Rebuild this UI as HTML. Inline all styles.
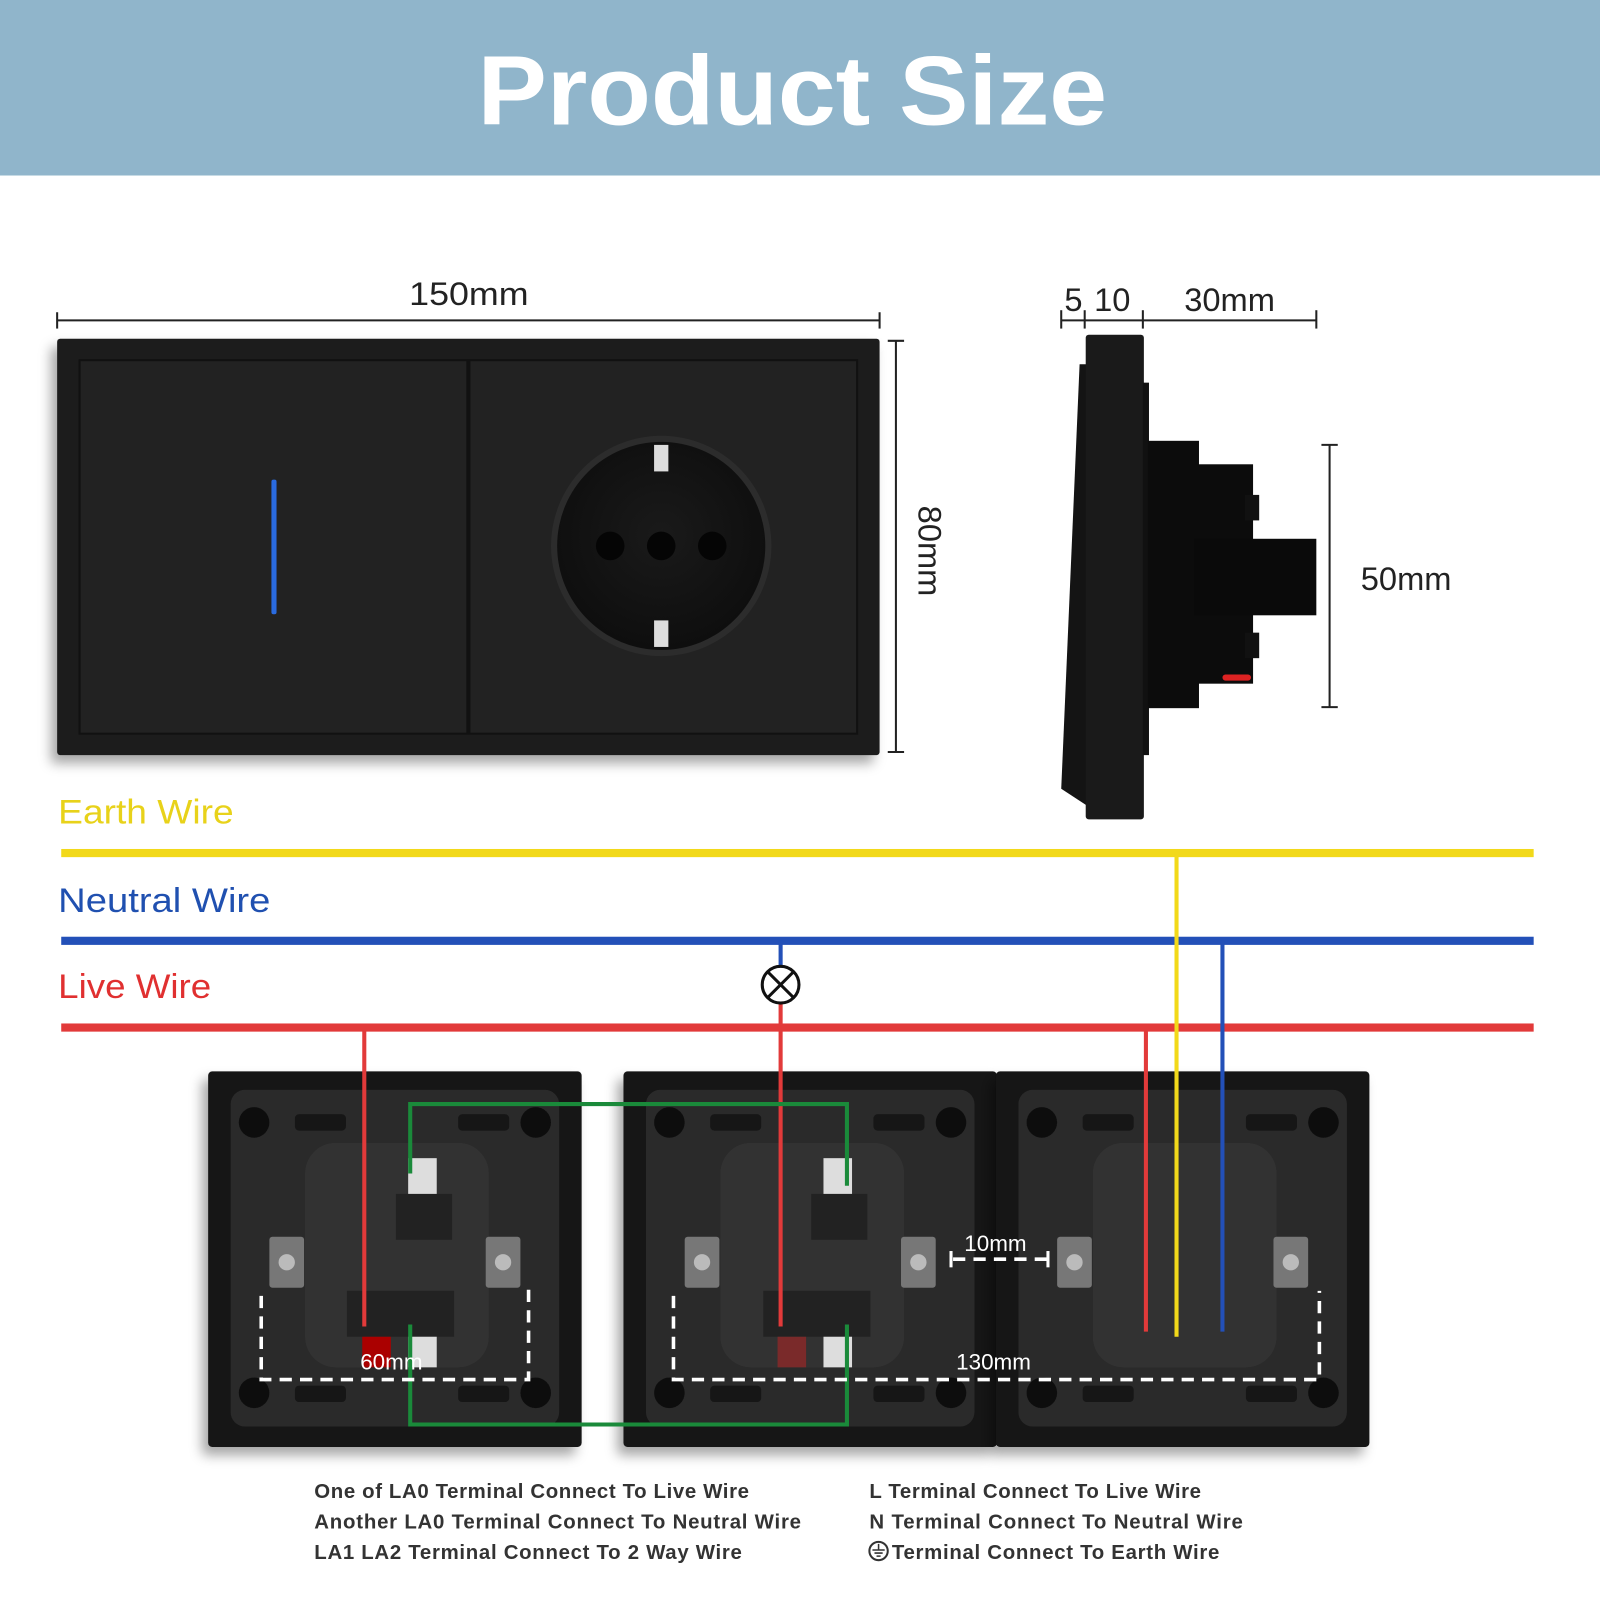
<!DOCTYPE html>
<html><head><meta charset="utf-8"><style>
html,body{margin:0;padding:0;background:#fff;width:1600px;height:1600px;overflow:hidden}
svg{display:block}
text{font-family:"Liberation Sans","DejaVu Sans",sans-serif}
</style></head><body>
<svg width="1600" height="1600" viewBox="0 0 1568 1568" xmlns="http://www.w3.org/2000/svg">
<defs>
<filter id="sh" x="-10%" y="-10%" width="120%" height="120%"><feDropShadow dx="-6" dy="8" stdDeviation="6" flood-color="#000" flood-opacity="0.35"/></filter>
<radialGradient id="sock" cx="50%" cy="45%" r="55%"><stop offset="0" stop-color="#1a1a1a"/><stop offset="1" stop-color="#0e0e0e"/></radialGradient>
<g id="back">
<rect x="0" y="0" width="366" height="368" rx="4" fill="#141414"/>
<rect x="22" y="18" width="322" height="330" rx="14" fill="#2a2a2a"/>
<rect x="95" y="70" width="180" height="220" rx="30" fill="#333"/>
<rect x="30" y="35" width="30" height="30" rx="15" fill="#111"/>
<rect x="306" y="35" width="30" height="30" rx="15" fill="#111"/>
<rect x="30" y="300" width="30" height="30" rx="15" fill="#111"/>
<rect x="306" y="300" width="30" height="30" rx="15" fill="#111"/>
<rect x="85" y="42" width="50" height="16" rx="4" fill="#151515"/>
<rect x="245" y="42" width="50" height="16" rx="4" fill="#151515"/>
<rect x="85" y="308" width="50" height="16" rx="4" fill="#151515"/>
<rect x="245" y="308" width="50" height="16" rx="4" fill="#151515"/>
<rect x="60" y="162" width="34" height="50" rx="3" fill="#777"/>
<circle cx="77" cy="187" r="8" fill="#bbb"/>
<rect x="272" y="162" width="34" height="50" rx="3" fill="#777"/>
<circle cx="289" cy="187" r="8" fill="#bbb"/>
</g>
</defs>
<rect x="0" y="0" width="1568" height="172" fill="#90b5cb"/>
<text x="468" y="122" font-size="96" font-weight="bold" fill="#fff" textLength="617" lengthAdjust="spacingAndGlyphs">Product Size</text>

<!-- front plate -->
<g stroke="#222" stroke-width="2" fill="none">
<line x1="56" y1="314" x2="862" y2="314"/><line x1="56" y1="306" x2="56" y2="322"/><line x1="862" y1="306" x2="862" y2="322"/>
<line x1="878" y1="334" x2="878" y2="737"/><line x1="870" y1="334" x2="886" y2="334"/><line x1="870" y1="737" x2="886" y2="737"/>
</g>
<text x="401" y="299" font-size="32" fill="#222" textLength="117" lengthAdjust="spacingAndGlyphs">150mm</text>
<text transform="translate(900,540) rotate(90)" font-size="32" fill="#222" text-anchor="middle">80mm</text>
<rect x="56" y="332" width="806" height="408" rx="3" fill="#1b1b1b" filter="url(#sh)"/>
<rect x="78" y="353" width="380" height="366" fill="#222" stroke="#111" stroke-width="2"/>
<rect x="460" y="353" width="380" height="366" fill="#222" stroke="#111" stroke-width="2"/>
<rect x="266" y="470" width="5" height="132" rx="2" fill="#2a6be0"/>
<circle cx="648" cy="535" r="108" fill="#2c2c2c"/>
<circle cx="648" cy="535" r="102" fill="url(#sock)"/>
<rect x="641" y="436" width="14" height="26" fill="#ddd"/>
<rect x="641" y="608" width="14" height="26" fill="#ddd"/>
<circle cx="598" cy="535" r="14" fill="#050505"/>
<circle cx="698" cy="535" r="14" fill="#050505"/>
<circle cx="648" cy="535" r="14" fill="#050505"/>

<!-- side view -->
<g stroke="#222" stroke-width="2" fill="none">
<line x1="1040" y1="314" x2="1290" y2="314"/>
<line x1="1040" y1="304" x2="1040" y2="322"/><line x1="1063" y1="304" x2="1063" y2="322"/><line x1="1120" y1="304" x2="1120" y2="322"/><line x1="1290" y1="304" x2="1290" y2="322"/>
<line x1="1303" y1="436" x2="1303" y2="693"/><line x1="1295" y1="436" x2="1311" y2="436"/><line x1="1295" y1="693" x2="1311" y2="693"/>
</g>
<text x="1052" y="305" font-size="32" fill="#222" text-anchor="middle">5</text>
<text x="1090" y="305" font-size="32" fill="#222" text-anchor="middle">10</text>
<text x="1205" y="305" font-size="32" fill="#222" text-anchor="middle">30mm</text>
<text x="1378" y="578" font-size="32" fill="#222" text-anchor="middle">50mm</text>
<polygon points="1058,357 1066,357 1066,790 1040,773" fill="#141414"/>
<rect x="1064" y="328" width="57" height="475" rx="3" fill="#1a1a1a"/>
<rect x="1120" y="375" width="6" height="365" fill="#111"/>
<rect x="1125" y="432" width="50" height="262" fill="#0c0c0c"/>
<rect x="1170" y="455" width="58" height="215" fill="#0c0c0c"/>
<rect x="1170" y="528" width="120" height="75" fill="#0a0a0a"/>
<rect x="1220" y="485" width="14" height="25" fill="#111"/>
<rect x="1220" y="620" width="14" height="25" fill="#111"/>
<rect x="1198" y="661" width="28" height="6" rx="3" fill="#d22"/>

<!-- wires -->
<text x="57" y="807" font-size="34" fill="#e8d21a" textLength="172" lengthAdjust="spacingAndGlyphs">Earth Wire</text>
<text x="57" y="894" font-size="34" fill="#2050b0" textLength="208" lengthAdjust="spacingAndGlyphs">Neutral Wire</text>
<text x="57" y="978" font-size="34" fill="#e03030" textLength="150" lengthAdjust="spacingAndGlyphs">Live Wire</text>

<!-- back boxes -->
<use href="#back" x="204" y="1050" filter="url(#sh)"/>
<use href="#back" x="611" y="1050" filter="url(#sh)"/>
<use href="#back" x="976" y="1050" filter="url(#sh)"/>
<g fill="#222">
<rect x="388" y="1170" width="55" height="45"/><rect x="340" y="1265" width="105" height="45"/>
<rect x="795" y="1170" width="55" height="45"/><rect x="748" y="1265" width="105" height="45"/>
</g>
<rect x="400" y="1135" width="28" height="35" fill="#ddd"/>
<rect x="400" y="1310" width="28" height="30" fill="#ddd"/>
<rect x="355" y="1310" width="28" height="30" fill="#a00"/>
<rect x="807" y="1135" width="28" height="35" fill="#ddd"/>
<rect x="807" y="1310" width="28" height="30" fill="#ddd"/>
<rect x="762" y="1310" width="28" height="30" fill="#7a2a2a"/>

<rect x="60" y="832" width="1443" height="8" fill="#f2d91a"/>
<rect x="60" y="918" width="1443" height="8" fill="#2350b8"/>
<rect x="60" y="1003" width="1443" height="8" fill="#e23a3a"/>

<g stroke-width="4" fill="none">
<line x1="357" y1="1007" x2="357" y2="1300" stroke="#e23a3a"/>
<line x1="765" y1="983" x2="765" y2="1300" stroke="#e23a3a"/>
<line x1="765" y1="922" x2="765" y2="947" stroke="#2350b8"/>
<line x1="1123" y1="1007" x2="1123" y2="1305" stroke="#e23a3a"/>
<line x1="1153" y1="836" x2="1153" y2="1310" stroke="#f2d91a"/>
<line x1="1198" y1="922" x2="1198" y2="1305" stroke="#2350b8"/>
<path d="M402,1150 V1082 H830 V1162" stroke="#1a8a3a"/>
<path d="M402,1298 V1396 H830 V1298" stroke="#1a8a3a"/>
</g>
<circle cx="765" cy="965" r="18" fill="#fff" stroke="#111" stroke-width="3"/>
<path d="M752,952 L778,978 M778,952 L752,978" stroke="#111" stroke-width="3"/>

<g stroke="#fff" stroke-width="3.5" stroke-dasharray="12,8" fill="none">
<path d="M256,1270 V1352 H518 V1262"/>
<path d="M660,1270 V1352 H1293 V1265"/>
<line x1="934" y1="1234" x2="1026" y2="1234"/>
</g>
<line x1="932" y1="1226" x2="932" y2="1242" stroke="#fff" stroke-width="3"/>
<line x1="1027" y1="1226" x2="1027" y2="1242" stroke="#fff" stroke-width="3"/>
<text x="353" y="1342" font-size="22" fill="#fff">60mm</text>
<text x="937" y="1342" font-size="22" fill="#fff">130mm</text>
<text x="945" y="1226" font-size="22" fill="#fff">10mm</text>

<g font-size="20" font-weight="bold" fill="#333" lengthAdjust="spacingAndGlyphs">
<text x="308" y="1468" textLength="426">One of LA0 Terminal Connect To Live Wire</text>
<text x="308" y="1498" textLength="477">Another LA0 Terminal Connect To Neutral Wire</text>
<text x="308" y="1528" textLength="419">LA1 LA2 Terminal Connect To 2 Way Wire</text>
<text x="852" y="1468" textLength="325">L Terminal Connect To Live Wire</text>
<text x="852" y="1498" textLength="366">N Terminal Connect To Neutral Wire</text>
<text x="874" y="1528" textLength="321">Terminal Connect To Earth Wire</text>
</g>
<circle cx="861" cy="1520" r="9" fill="none" stroke="#333" stroke-width="2"/>
<path d="M861,1513 V1519 M855,1519 H867 M857,1522 H865 M859,1525 H863" stroke="#333" stroke-width="1.5"/>
</svg>
</body></html>
